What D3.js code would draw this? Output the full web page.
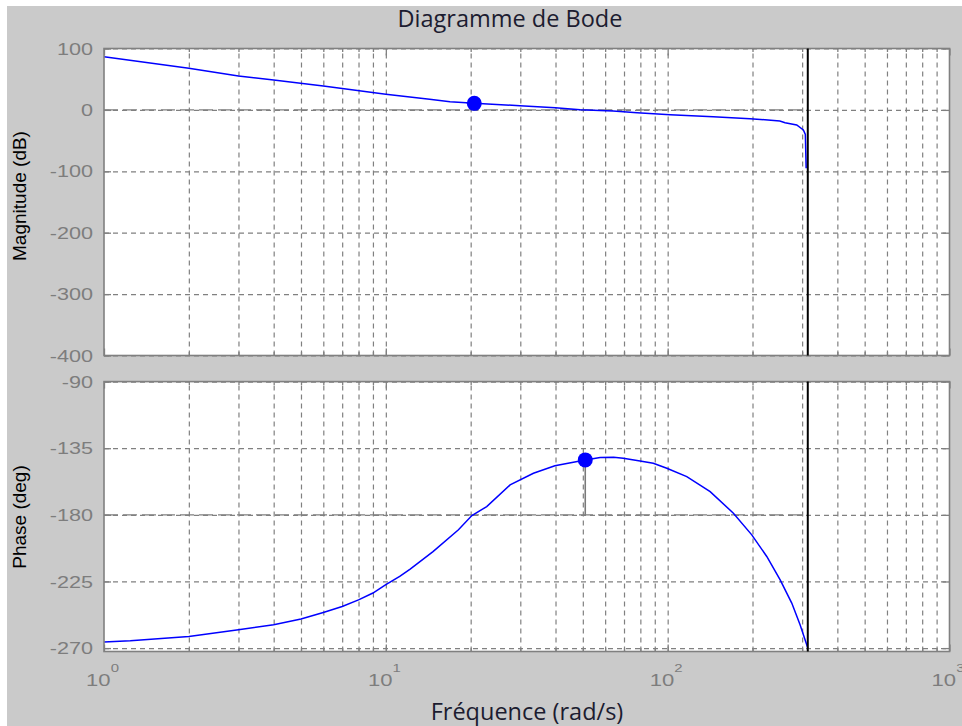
<!DOCTYPE html>
<html>
<head>
<meta charset="utf-8">
<script src="https://cdn.jsdelivr.net/npm/d3@7"></script>
<style>
  body { margin: 0; background: #fff; }
  svg { display: block; }
</style>
</head>
<body>
<svg id="chart" width="962" height="726"></svg>
<script>
// Magnitude response (rad/s, dB)
const magFreq = [1, 2, 3, 4, 6, 10, 14.3, 16.9, 20.6, 29.9, 39.9, 48.9, 64, 77.9, 102, 145, 196, 250, 261, 287, 303, 308, 310];
const magDb   = [86.6, 67.7, 55.2, 48.6, 38.9, 25.4, 17.2, 13.3, 10.7, 6.8, 3.6, 0.3, -1.8, -4.5, -7.8, -11, -14.3, -18, -20.8, -24.6, -32.7, -40, -95];

// Phase response (rad/s, deg)
const phaseFreq = [1, 1.24, 2, 3, 4, 5, 6, 7, 8, 9, 10, 11.2, 12.2, 14.7, 18.1, 20.2, 22.8, 27.6, 33.4, 39.8, 51, 57.6, 64.3, 69.6, 79.8, 88.9, 99.3, 116.9, 141.5, 171.1, 198.8, 224.7, 250.7, 275.6, 295, 310, 314.16];
const phaseDeg  = [-265.9, -265.0, -262.1, -257.6, -254.2, -250.4, -245.9, -241.9, -237.4, -232.8, -227.2, -221.6, -216.6, -204.8, -190.1, -180.5, -174.4, -159.8, -151.9, -146.9, -142.9, -141.3, -141.1, -141.8, -143.6, -145.1, -148.5, -154.2, -164.3, -178.9, -193.5, -208.1, -223.9, -239.6, -254.2, -266.6, -270];

// Stability margins and Nyquist frequency (Ts = 0.01 s)
const gainMargin  = { freq: 20.6, db: 10.7 };
const phaseMargin = { freq: 51, deg: -142.9 };
const nyquistFreq = Math.PI / 0.01;

// Axis ticks
const magTicks   = [100, 0, -100, -200, -300, -400];
const phaseTicks = [-90, -135, -180, -225, -270];
const decadeTicks = [1, 10, 100, 1000];

const titleText = "Diagramme de Bode";
const xLabelText = "Fréquence (rad/s)";
const magLabelText = "Magnitude (dB)";
const phaseLabelText = "Phase (deg)";

const svg = d3.select("#chart");
const W = 962, H = 726;
const GRID = "#808080";
const TICKTXT = "#7d7d7d";

svg.append("rect").attr("x", 7).attr("y", 6).attr("width", W - 7).attr("height", H - 6).attr("fill", "#cacaca");

const x = d3.scaleLog().domain([1, 1000]).range([104, 949.5]);
const yMag = d3.scaleLinear().domain([-400, 100]).range([355.5, 48.5]);
const yPh = d3.scaleLinear().domain([-272.3, -90]).range([651.5, 381.6]);

function drawPanel(y, yTicks, refValue, freqs, values, marker, markerBase, showXLabels) {
  const [yb, yt] = y.range();
  const [xl, xr] = x.range();
  const h = yb - yt, w = xr - xl;
  const g = svg.append("g");

  g.append("rect").attr("x", xl).attr("y", yt).attr("width", w).attr("height", h).attr("fill", "#fff");

  // dashed grid
  const minor = x.ticks().filter(v => v > 1 && v < 1000);
  const gx = g.append("g").attr("transform", `translate(0,${yb})`)
    .call(d3.axisBottom(x).tickValues(minor).tickSize(-h).tickFormat(""));
  const gy = g.append("g").attr("transform", `translate(${xl},0)`)
    .call(d3.axisLeft(y).tickValues(yTicks).tickSize(-w).tickFormat(""));
  [gx, gy].forEach(s => {
    s.select(".domain").remove();
    s.selectAll("line").attr("stroke", GRID).attr("stroke-width", 1.2).attr("stroke-dasharray", "5,4");
  });

  // reference level (0 dB / -180 deg) up to the Nyquist frequency
  g.append("line")
    .attr("x1", x(1)).attr("x2", x(nyquistFreq))
    .attr("y1", y(refValue)).attr("y2", y(refValue))
    .attr("stroke", GRID).attr("stroke-width", 1.3).attr("stroke-dasharray", "14,5");

  // response curve
  const pts = freqs.map((f, i) => [f, values[i]]);
  g.append("path").datum(pts)
    .attr("fill", "none").attr("stroke", "#0000ff").attr("stroke-width", 1.5)
    .attr("d", d3.line().x(d => x(d[0])).y(d => y(d[1])));

  // margin stem and marker
  g.append("line")
    .attr("x1", x(marker[0])).attr("x2", x(marker[0]))
    .attr("y1", y(markerBase)).attr("y2", y(marker[1]))
    .attr("stroke", "#7a7a7a").attr("stroke-width", 1.6);
  g.append("circle").attr("cx", x(marker[0])).attr("cy", y(marker[1])).attr("r", 7.5).attr("fill", "#0000ff");

  // inward frame ticks
  const tickStyle = s => {
    s.select(".domain").remove();
    s.selectAll("line").attr("stroke", GRID).attr("stroke-width", 1.3);
  };
  const minorOnly = minor.filter(v => !decadeTicks.includes(v));
  g.append("g").attr("transform", `translate(0,${yb})`)
    .call(d3.axisBottom(x).tickValues(decadeTicks).tickSize(-7).tickFormat("")).call(tickStyle);
  g.append("g").attr("transform", `translate(0,${yt})`)
    .call(d3.axisTop(x).tickValues(decadeTicks).tickSize(-7).tickFormat("")).call(tickStyle);
  g.append("g").attr("transform", `translate(0,${yb})`)
    .call(d3.axisBottom(x).tickValues(minorOnly).tickSize(-3.5).tickFormat("")).call(tickStyle);
  g.append("g").attr("transform", `translate(0,${yt})`)
    .call(d3.axisTop(x).tickValues(minorOnly).tickSize(-3.5).tickFormat("")).call(tickStyle);
  g.append("g").attr("transform", `translate(${xr},0)`)
    .call(d3.axisRight(y).tickValues(yTicks).tickSize(-7).tickFormat("")).call(tickStyle);

  // left axis with labels
  const ly = g.append("g").attr("transform", `translate(${xl},0)`)
    .call(d3.axisLeft(y).tickValues(yTicks).tickSize(-7).tickPadding(0).tickFormat(d3.format("d")));
  ly.select(".domain").remove();
  ly.selectAll("line").attr("stroke", GRID).attr("stroke-width", 1.3);
  ly.selectAll("text")
    .attr("x", 0).attr("dy", "0.36em")
    .attr("transform", "translate(-11,0) scale(1.37,1)")
    .attr("fill", TICKTXT)
    .attr("font-family", "'Liberation Sans', Arial, sans-serif")
    .attr("font-size", 15.8)
    .text(d => d3.format("d")(d).replace("−", "-"));

  // frame
  g.append("rect").attr("x", xl).attr("y", yt).attr("width", w).attr("height", h)
    .attr("fill", "none").attr("stroke", GRID).attr("stroke-width", 1.6);

  // Nyquist frequency
  g.append("line")
    .attr("x1", x(nyquistFreq)).attr("x2", x(nyquistFreq))
    .attr("y1", yt).attr("y2", yb)
    .attr("stroke", "#000").attr("stroke-width", 2);

  if (showXLabels) {
    const lx = g.append("g").attr("transform", `translate(0,${yb})`)
      .call(d3.axisBottom(x).tickValues(decadeTicks).tickSize(0).tickFormat(""));
    lx.select(".domain").remove();
    lx.selectAll(".tick text").remove();
    const t = lx.selectAll(".tick").append("text")
      .attr("transform", "translate(-2,34.5) scale(1.3,1)")
      .attr("text-anchor", "middle")
      .attr("fill", TICKTXT)
      .attr("font-family", "'Liberation Sans', Arial, sans-serif")
      .attr("font-size", 17)
      .text("10");
    t.append("tspan").attr("dy", -14).attr("font-size", 11.5).text(d => Math.round(Math.log10(d)));
  }
}

drawPanel(yMag, magTicks, 0, magFreq, magDb, [gainMargin.freq, gainMargin.db], 0, false);
drawPanel(yPh, phaseTicks, -180, phaseFreq, phaseDeg, [phaseMargin.freq, phaseMargin.deg], -180, true);

// titles
svg.append("text").attr("x", 510).attr("y", 27).attr("text-anchor", "middle")
  .attr("font-family", "'Open Sans', 'Noto Sans', sans-serif").attr("font-size", 23.5)
  .attr("fill", "#1c1c30").text(titleText);
svg.append("text").attr("x", 527).attr("y", 719.5).attr("text-anchor", "middle")
  .attr("font-family", "'Open Sans', 'Noto Sans', sans-serif").attr("font-size", 23.5)
  .attr("fill", "#1c1c30").text(xLabelText);
svg.append("text").attr("transform", "translate(26,196) rotate(-90)").attr("text-anchor", "middle")
  .attr("font-family", "'Liberation Sans', Arial, sans-serif").attr("font-size", 19)
  .attr("fill", "#000").text(magLabelText);
svg.append("text").attr("transform", "translate(26,517) rotate(-90)").attr("text-anchor", "middle")
  .attr("font-family", "'Liberation Sans', Arial, sans-serif").attr("font-size", 19)
  .attr("fill", "#000").text(phaseLabelText);
</script>
</body>
</html>
